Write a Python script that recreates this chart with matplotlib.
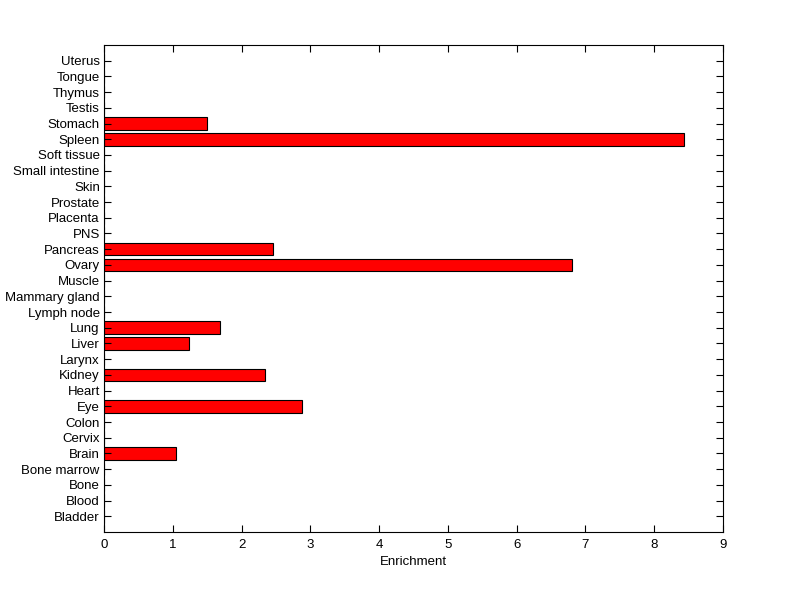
import matplotlib
matplotlib.use("Agg")
import matplotlib.pyplot as plt

categories = ["Bladder", "Blood", "Bone", "Bone marrow", "Brain", "Cervix", "Colon", "Eye",
              "Heart", "Kidney", "Larynx", "Liver", "Lung", "Lymph node", "Mammary gland",
              "Muscle", "Ovary", "Pancreas", "PNS", "Placenta", "Prostate", "Skin",
              "Small intestine", "Soft tissue", "Spleen", "Stomach", "Testis", "Thymus",
              "Tongue", "Uterus"]
values = [0, 0, 0, 0, 1.04, 0, 0, 2.88,
          0, 2.34, 0, 1.24, 1.69, 0, 0,
          0, 6.80, 2.46, 0, 0, 0, 0,
          0, 0, 8.43, 1.50, 0, 0,
          0, 0]
xticks = list(range(0, 10))

plt.rcParams['font.family'] = ['Liberation Sans', 'DejaVu Sans']
fig = plt.figure(figsize=(8, 5.99), dpi=100)
ax = fig.add_axes([0.13, 0.1119, 0.77375, 0.813])
pos = list(range(1, len(categories) + 1))
ax.barh(pos, values, height=0.8, color='#ff0000', edgecolor='black', linewidth=0.8)
ax.set_ylim(0, len(categories) + 1)
ax.set_xlim(0, 9)
ax.set_yticks(pos)
ax.set_yticklabels(categories, fontsize=9.5)
ax.set_xticks(xticks)
ax.set_xticklabels([str(t) for t in xticks], fontsize=9.5)
ax.tick_params(direction='in', length=5, width=0.8, top=True, right=True, colors='black')
ax.tick_params(axis='x', pad=5)
ax.tick_params(axis='y', pad=3)
for s in ax.spines.values():
    s.set_linewidth(0.8)
ax.set_xlabel("Enrichment", fontsize=9.5, labelpad=4)
fig.savefig("out.png", dpi=100)
